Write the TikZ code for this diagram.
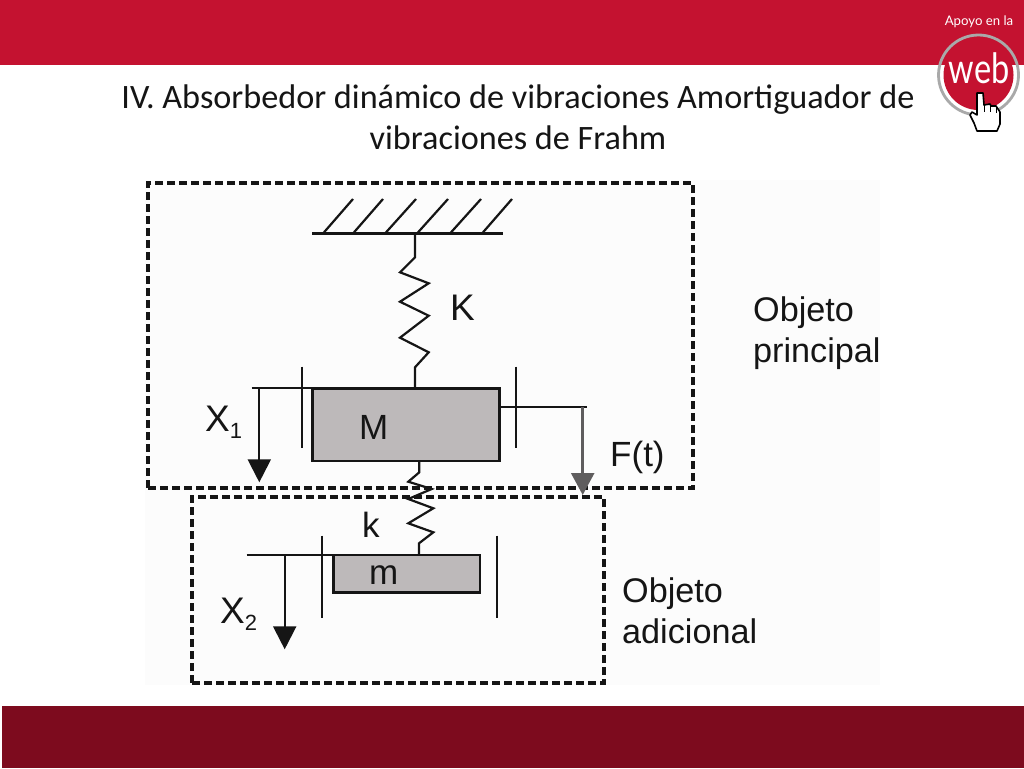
\documentclass[tikz,border=0pt]{standalone}
\usepackage{fontspec}
\setmainfont{Liberation Sans}
\newfontfamily\titlefont{Carlito}
\newfontfamily\logofont{Lato}
\usetikzlibrary{arrows.meta}
\definecolor{bandred}{HTML}{C41230}
\definecolor{banddark}{HTML}{7D0B1E}
\definecolor{panel}{HTML}{FCFCFC}
\definecolor{massgray}{HTML}{BDB9BA}
\definecolor{ink}{HTML}{151515}
\definecolor{forcegray}{HTML}{5F5D5E}
\definecolor{ringgray}{HTML}{A9A9A9}
\tikzset{
  ln/.style={draw=ink,line width=2.2pt,line join=miter},
  boxdash/.style={draw=ink,line width=3.1pt,dash pattern=on 8pt off 4pt},
  mass/.style={draw=ink,fill=massgray,line width=2.4pt,inner sep=0pt,outer sep=0pt,minimum width=#1},
  lab/.style={font=\fontsize{35}{35}\selectfont,text=ink,inner sep=0pt,anchor=base west},
  biglab/.style={font=\fontsize{37}{37}\selectfont,text=ink,inner sep=0pt,anchor=base west},
  sublab/.style={font=\fontsize{34.2}{41}\selectfont,text=ink,inner sep=0pt,anchor=base west,align=left},
  arrowblk/.style={ln,-{Triangle[length=23pt,width=23pt]}},
  arrowgry/.style={draw=forcegray,line width=2.5pt,-{Triangle[length=22pt,width=23pt]},color=forcegray},
  ttl/.style={font=\titlefont\fontsize{34.2}{41}\selectfont,text=ink,align=center,inner sep=0pt},
}
\newcommand{\subn}[1]{\raisebox{-.2em}{\fontsize{22}{22}\selectfont #1}}
\begin{document}
\begin{tikzpicture}[x=1pt,y=-1pt]
\useasboundingbox (0,0) rectangle (1024,768);
\fill[white] (0,0) rectangle (1024,768);
\fill[bandred] (0,0) rectangle (1024,65);
\fill[banddark] (2,706) rectangle (1024,768);
\fill[panel] (145,180) rectangle (880,685);

% title
\node[ttl] (title) at (518,117) {IV. Absorbedor dinámico de vibraciones Amortiguador de\\vibraciones de Frahm};

% logo
\coordinate (logoc) at (978.5,75);
\fill[bandred] (logoc) circle (35);
\draw[ringgray,line width=2.8pt] (logoc) circle (40);
\node[text=white,inner sep=0pt,font=\logofont\fontsize{13.2}{14}\selectfont] (apoyo) at (979,22) {Apoyo en la};
\node[text=white,inner sep=0pt,anchor=base,font=\logofont\fontsize{31}{31}\selectfont] (web) at (979,83) {\scalebox{1.05}[1.35]{web}};
\draw[fill=white,draw=black,line width=1.6pt,line join=round]
  (977,93) -- (983,93) -- (984,105) -- (990,104) -- (991,106) -- (996,106) -- (998,109) -- (1000,112) -- (1000,124) -- (997,131) -- (977,131) -- (974,123) -- (970,115) -- (972,112) -- (977,115) -- cycle;
\draw[black,line width=1pt] (984,105) -- (984,112) (990,105) -- (990,112) (996,108) -- (996,113);

% dashed frames
\node[boxdash,minimum width=545pt,minimum height=305pt,inner sep=0pt] (principal) at (420.5,335.5) {};
\node[boxdash,minimum width=412pt,minimum height=186pt,inner sep=0pt] (adicional) at (398,590) {};

% ground
\coordinate (gl) at (312,233.5);
\coordinate (gr) at (503,233.5);
\coordinate (gm) at (415,233.5);
\draw[ln] (gl) -- (gr);
\draw[ln] (323,233.5) -- (353,199) (353,233.5) -- (383,199) (385,233.5) -- (416,199)
          (417,233.5) -- (448,199) (450,233.5) -- (481,199) (482,233.5) -- (512,199);

% masses
\node[mass=187pt,minimum height=72.4pt] (M) at (405.8,424.5) {};
\node[mass=146.7pt,minimum height=37.7pt] (m) at (406.7,573.8) {};

% spring K
\coordinate (Ktop) at (415,388.3);
\draw[ln] (gm) -- (415,257.3) -- (400,272.3) -- (428.7,283.3) -- (400,301.7) -- (428.7,315.7) -- (400,337.7) -- (428.7,352.3) -- (415,367.3) -- (Ktop);

% spring k
\coordinate (kt) at (419.3,460.7);
\coordinate (kb) at (419,555);
\draw[ln] (kt) -- (419.3,472.3) -- (408.3,481.7) -- (431.7,489) -- (408.3,499) -- (433.3,508.3) -- (408.3,523.3) -- (433.3,532.3) -- (419,543.3) -- (kb);

% guides M
\draw[ln] (302.3,366.7) -- (302.3,448.3);
\draw[ln] (516,366.7) -- (516,448.3);
\coordinate (x1l) at (251.7,0);
\draw[ln] (x1l |- M.north west) -- (M.north west);
\coordinate (x1a) at (259.3,0);
\coordinate (x1t) at (259.3,482.3);
\draw[arrowblk] (x1a |- M.north west) -- (x1t);
\coordinate (fr) at (586.5,407.3);
\draw[ln] (M.east |- fr) -- (fr);
\coordinate (fa) at (582.7,407.3);
\coordinate (ft) at (582.7,495);
\draw[arrowgry] (fa) -- (ft);

% guides m
\draw[ln] (322.3,535.7) -- (322.3,618.3);
\draw[ln] (497,535.7) -- (497,618.3);
\coordinate (x2l) at (246.7,0);
\draw[ln] (x2l |- m.north west) -- (m.north west);
\coordinate (x2a) at (284.7,0);
\coordinate (x2t) at (284.7,649.3);
\draw[arrowblk] (x2a |- m.north west) -- (x2t);

% labels
\node[biglab] (Kl) at (450,320.5) {K};
\node[lab] (Ml) at (359,439.5) {M};
\node[lab] (ml) at (369,584.5) {m};
\node[lab] (kl) at (362,537) {k};
\node[biglab] (X1) at (205,431.5) {X\subn{1}};
\node[biglab] (X2) at (220,623.5) {X\subn{2}};
\node[lab] (Ft) at (610,466.5) {F(t)};
\node[sublab] (objp) at (753,362) {Objeto\\principal};
\node[sublab] (obja) at (622,643) {Objeto\\adicional};
\end{tikzpicture}
\end{document}
